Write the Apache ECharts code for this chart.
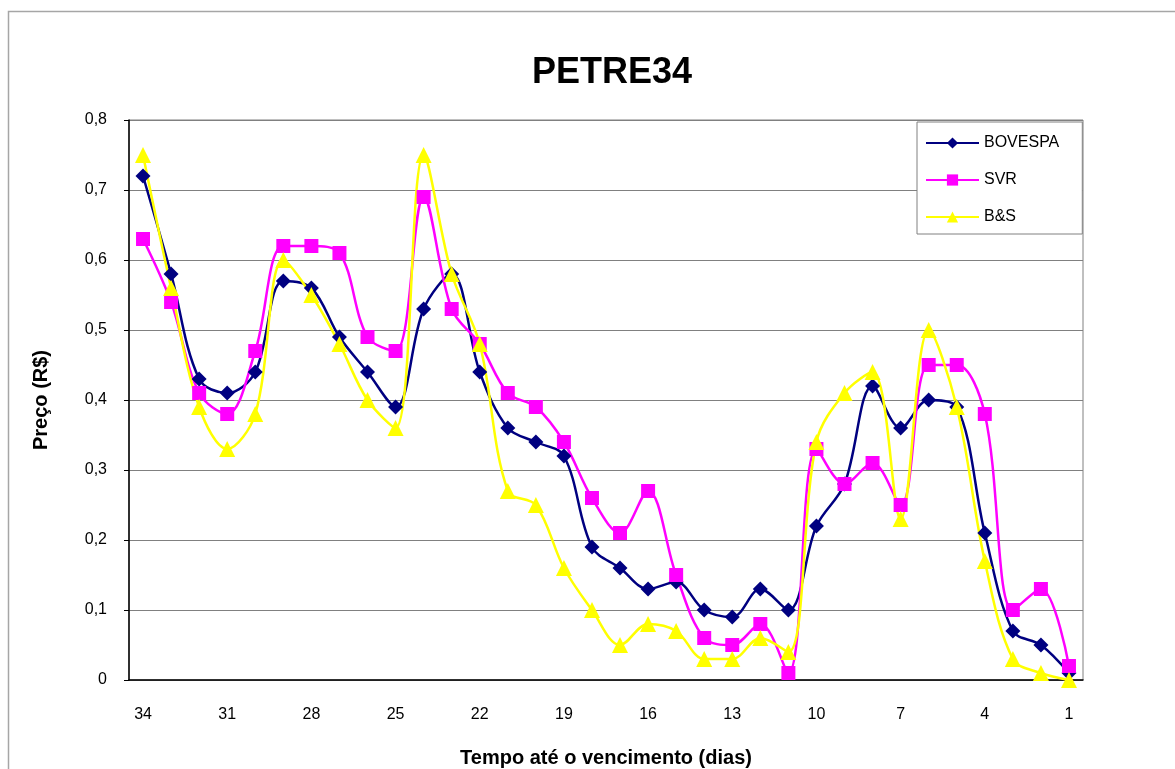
<!DOCTYPE html>
<html>
<head>
<meta charset="utf-8">
<script src="https://cdn.jsdelivr.net/npm/echarts@6/dist/echarts.min.js"></script>
<style>
  html, body { margin: 0; padding: 0; background: #fff; }
  #chart { width: 1175px; height: 769px; }
</style>
</head>
<body>
<div id="chart"></div>
<script>
// dias até o vencimento (34 -> 1)
const dias = ['34','33','32','31','30','29','28','27','26','25','24','23','22','21','20','19','18','17','16','15','14','13','12','11','10','9','8','7','6','5','4','3','2','1']

const bovespa = [0.72, 0.58, 0.43, 0.41, 0.44, 0.57, 0.56, 0.49, 0.44, 0.39,
  0.53, 0.58, 0.44, 0.36, 0.34, 0.32, 0.19, 0.16, 0.13, 0.14,
  0.10, 0.09, 0.13, 0.10, 0.22, 0.28, 0.42, 0.36, 0.40, 0.39,
  0.21, 0.07, 0.05, 0.01]

const svr = [0.63, 0.54, 0.41, 0.38, 0.47, 0.62, 0.62, 0.61, 0.49, 0.47,
  0.69, 0.53, 0.48, 0.41, 0.39, 0.34, 0.26, 0.21, 0.27, 0.15,
  0.06, 0.05, 0.08, 0.01, 0.33, 0.28, 0.31, 0.25, 0.45, 0.45,
  0.38, 0.10, 0.13, 0.02]

const bs = [0.75, 0.56, 0.39, 0.33, 0.38, 0.60, 0.55, 0.48, 0.40, 0.36,
  0.75, 0.58, 0.48, 0.27, 0.25, 0.16, 0.10, 0.05, 0.08, 0.07,
  0.03, 0.03, 0.06, 0.04, 0.34, 0.41, 0.44, 0.23, 0.50, 0.39,
  0.17, 0.03, 0.01, 0.00]

const font = 'Liberation Sans, Arial, sans-serif'

const myChart = echarts.init(document.getElementById('chart'))

function serie(name, data, color, symbol, size) {
  return {
    name: name,
    type: 'line',
    data: data,
    smooth: 0.35,
    symbol: symbol,
    symbolSize: size,
    showAllSymbol: true,
    lineStyle: { color: color, width: 2.5 },
    itemStyle: { color: color, borderWidth: 0 },
    emphasis: { disabled: true }
  }
}

myChart.setOption({
  animation: false,
  backgroundColor: '#fff',
  textStyle: { fontFamily: font },
  graphic: [{
    type: 'rect',
    left: 6, top: 9,
    shape: { width: 1200, height: 800 },
    style: { fill: 'none', stroke: '#a6a6a6', lineWidth: 1.5 },
    z: -1
  }],
  title: {
    text: 'PETRE34',
    left: 527,
    top: 50,
    textStyle: { fontSize: 36, fontWeight: 'bold', color: '#000', fontFamily: font }
  },
  legend: {
    orient: 'vertical',
    left: 917,
    top: 122,
    padding: [13, 23, 9, 8],
    itemWidth: 53,
    itemHeight: 14,
    itemGap: 21,
    borderColor: '#808080',
    borderWidth: 1,
    backgroundColor: '#fff',
    textStyle: { fontSize: 16, color: '#000', fontFamily: font },
    data: ['BOVESPA', 'SVR', 'B&S']
  },
  grid: {
    left: 129,
    top: 120,
    width: 954,
    height: 560,
    outerBoundsMode: 'none',
    containLabel: false,
    show: true,
    borderColor: '#808080',
    borderWidth: 1,
    backgroundColor: '#fff'
  },
  xAxis: {
    type: 'category',
    data: dias,
    boundaryGap: true,
    name: 'Tempo até o vencimento (dias)',
    nameLocation: 'middle',
    nameGap: 68,
    nameTextStyle: { fontSize: 20, fontWeight: 'bold', color: '#000', fontFamily: font },
    axisLine: { lineStyle: { color: '#000', width: 1.5 } },
    axisTick: { interval: 0, length: 5, lineStyle: { color: '#000' } },
    axisLabel: { interval: 2, fontSize: 16, color: '#000', margin: 27 }
  },
  yAxis: {
    type: 'value',
    min: 0,
    max: 0.8,
    interval: 0.1,
    name: 'Preço (R$)',
    nameLocation: 'middle',
    nameGap: 78,
    nameRotate: 90,
    nameTextStyle: { fontSize: 20, fontWeight: 'bold', color: '#000', fontFamily: font },
    axisLine: { show: true, lineStyle: { color: '#000', width: 1.5 } },
    axisTick: { show: true, length: 5, lineStyle: { color: '#000' } },
    axisLabel: {
      fontSize: 16,
      color: '#000',
      margin: 22,
      formatter: function (v) {
        return v === 0 ? '0' : v.toFixed(1).replace('.', ',')
      }
    },
    splitLine: { lineStyle: { color: '#808080', width: 1 } }
  },
  series: [
    serie('BOVESPA', bovespa, '#000080', 'diamond', [15, 15]),
    serie('SVR', svr, '#ff00ff', 'rect', 14),
    serie('B&S', bs, '#ffff00', 'triangle', 16)
  ]
})
</script>
</body>
</html>
